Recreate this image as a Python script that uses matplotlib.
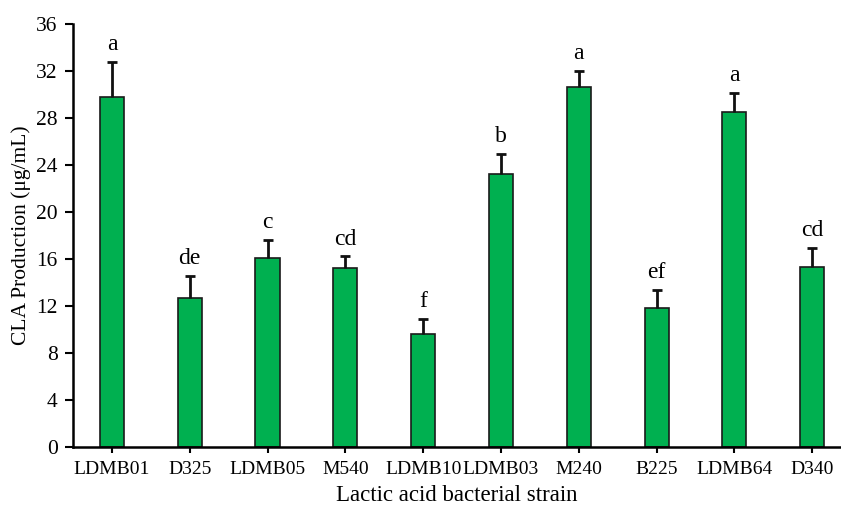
import matplotlib
matplotlib.use("Agg")
import matplotlib.pyplot as plt
import numpy as np

strains = ["LDMB01", "D325", "LDMB05", "M540", "LDMB10", "LDMB03", "M240", "B225", "LDMB64", "D340"]
production = [29.8, 12.65, 16.1, 15.25, 9.6, 23.2, 30.6, 11.8, 28.5, 15.3]
errors = [3.0, 1.85, 1.5, 0.95, 1.25, 1.7, 1.4, 1.55, 1.65, 1.65]
letters = ["a", "de", "c", "cd", "f", "b", "a", "ef", "a", "cd"]
yticks = [0, 4, 8, 12, 16, 20, 24, 28, 32, 36]

plt.rcParams['font.family'] = ['Liberation Serif', 'DejaVu Serif']

fig = plt.figure(figsize=(8.41, 5.05), dpi=100)
ax = fig.add_axes([0.0868, 0.1155, 0.9132, 0.837])

x = np.arange(len(strains))
ax.bar(x, production, width=0.31, color="#00B050", edgecolor="#1a1a1a", linewidth=1.2, zorder=2)
eb = ax.errorbar(x, production, yerr=[np.zeros(len(errors)), errors], fmt="none",
                 ecolor="#111111", elinewidth=2.0, capsize=3.3, capthick=2.0, zorder=3)
caps = eb[1]
if len(caps) > 1:
    caps[0].set_visible(False)

for xi, v, e, lab in zip(x, production, errors, letters):
    ax.annotate(lab, (xi, v + e), xytext=(0, 5), textcoords="offset points",
                ha="center", va="bottom", fontsize=17)

ax.set_xlim(-0.5, 9.37)
ax.set_ylim(0, 36)
ax.set_yticks(yticks)
ax.set_xticks(x)
ax.set_xticklabels(strains, fontsize=14)
ax.tick_params(axis="y", labelsize=15.5, direction="out", length=6, width=1.5, pad=5)
ax.tick_params(axis="x", direction="out", length=4, width=1.5, pad=6)
for s in ["top", "right"]:
    ax.spines[s].set_visible(False)
for s in ["left", "bottom"]:
    ax.spines[s].set_linewidth(1.8)
    ax.spines[s].set_color("black")

ax.set_xlabel("Lactic acid bacterial strain", fontsize=16.5, labelpad=5)
ax.set_ylabel("CLA Production (μg/mL)", fontsize=15.5, labelpad=4)

fig.savefig("out.png", dpi=100)
